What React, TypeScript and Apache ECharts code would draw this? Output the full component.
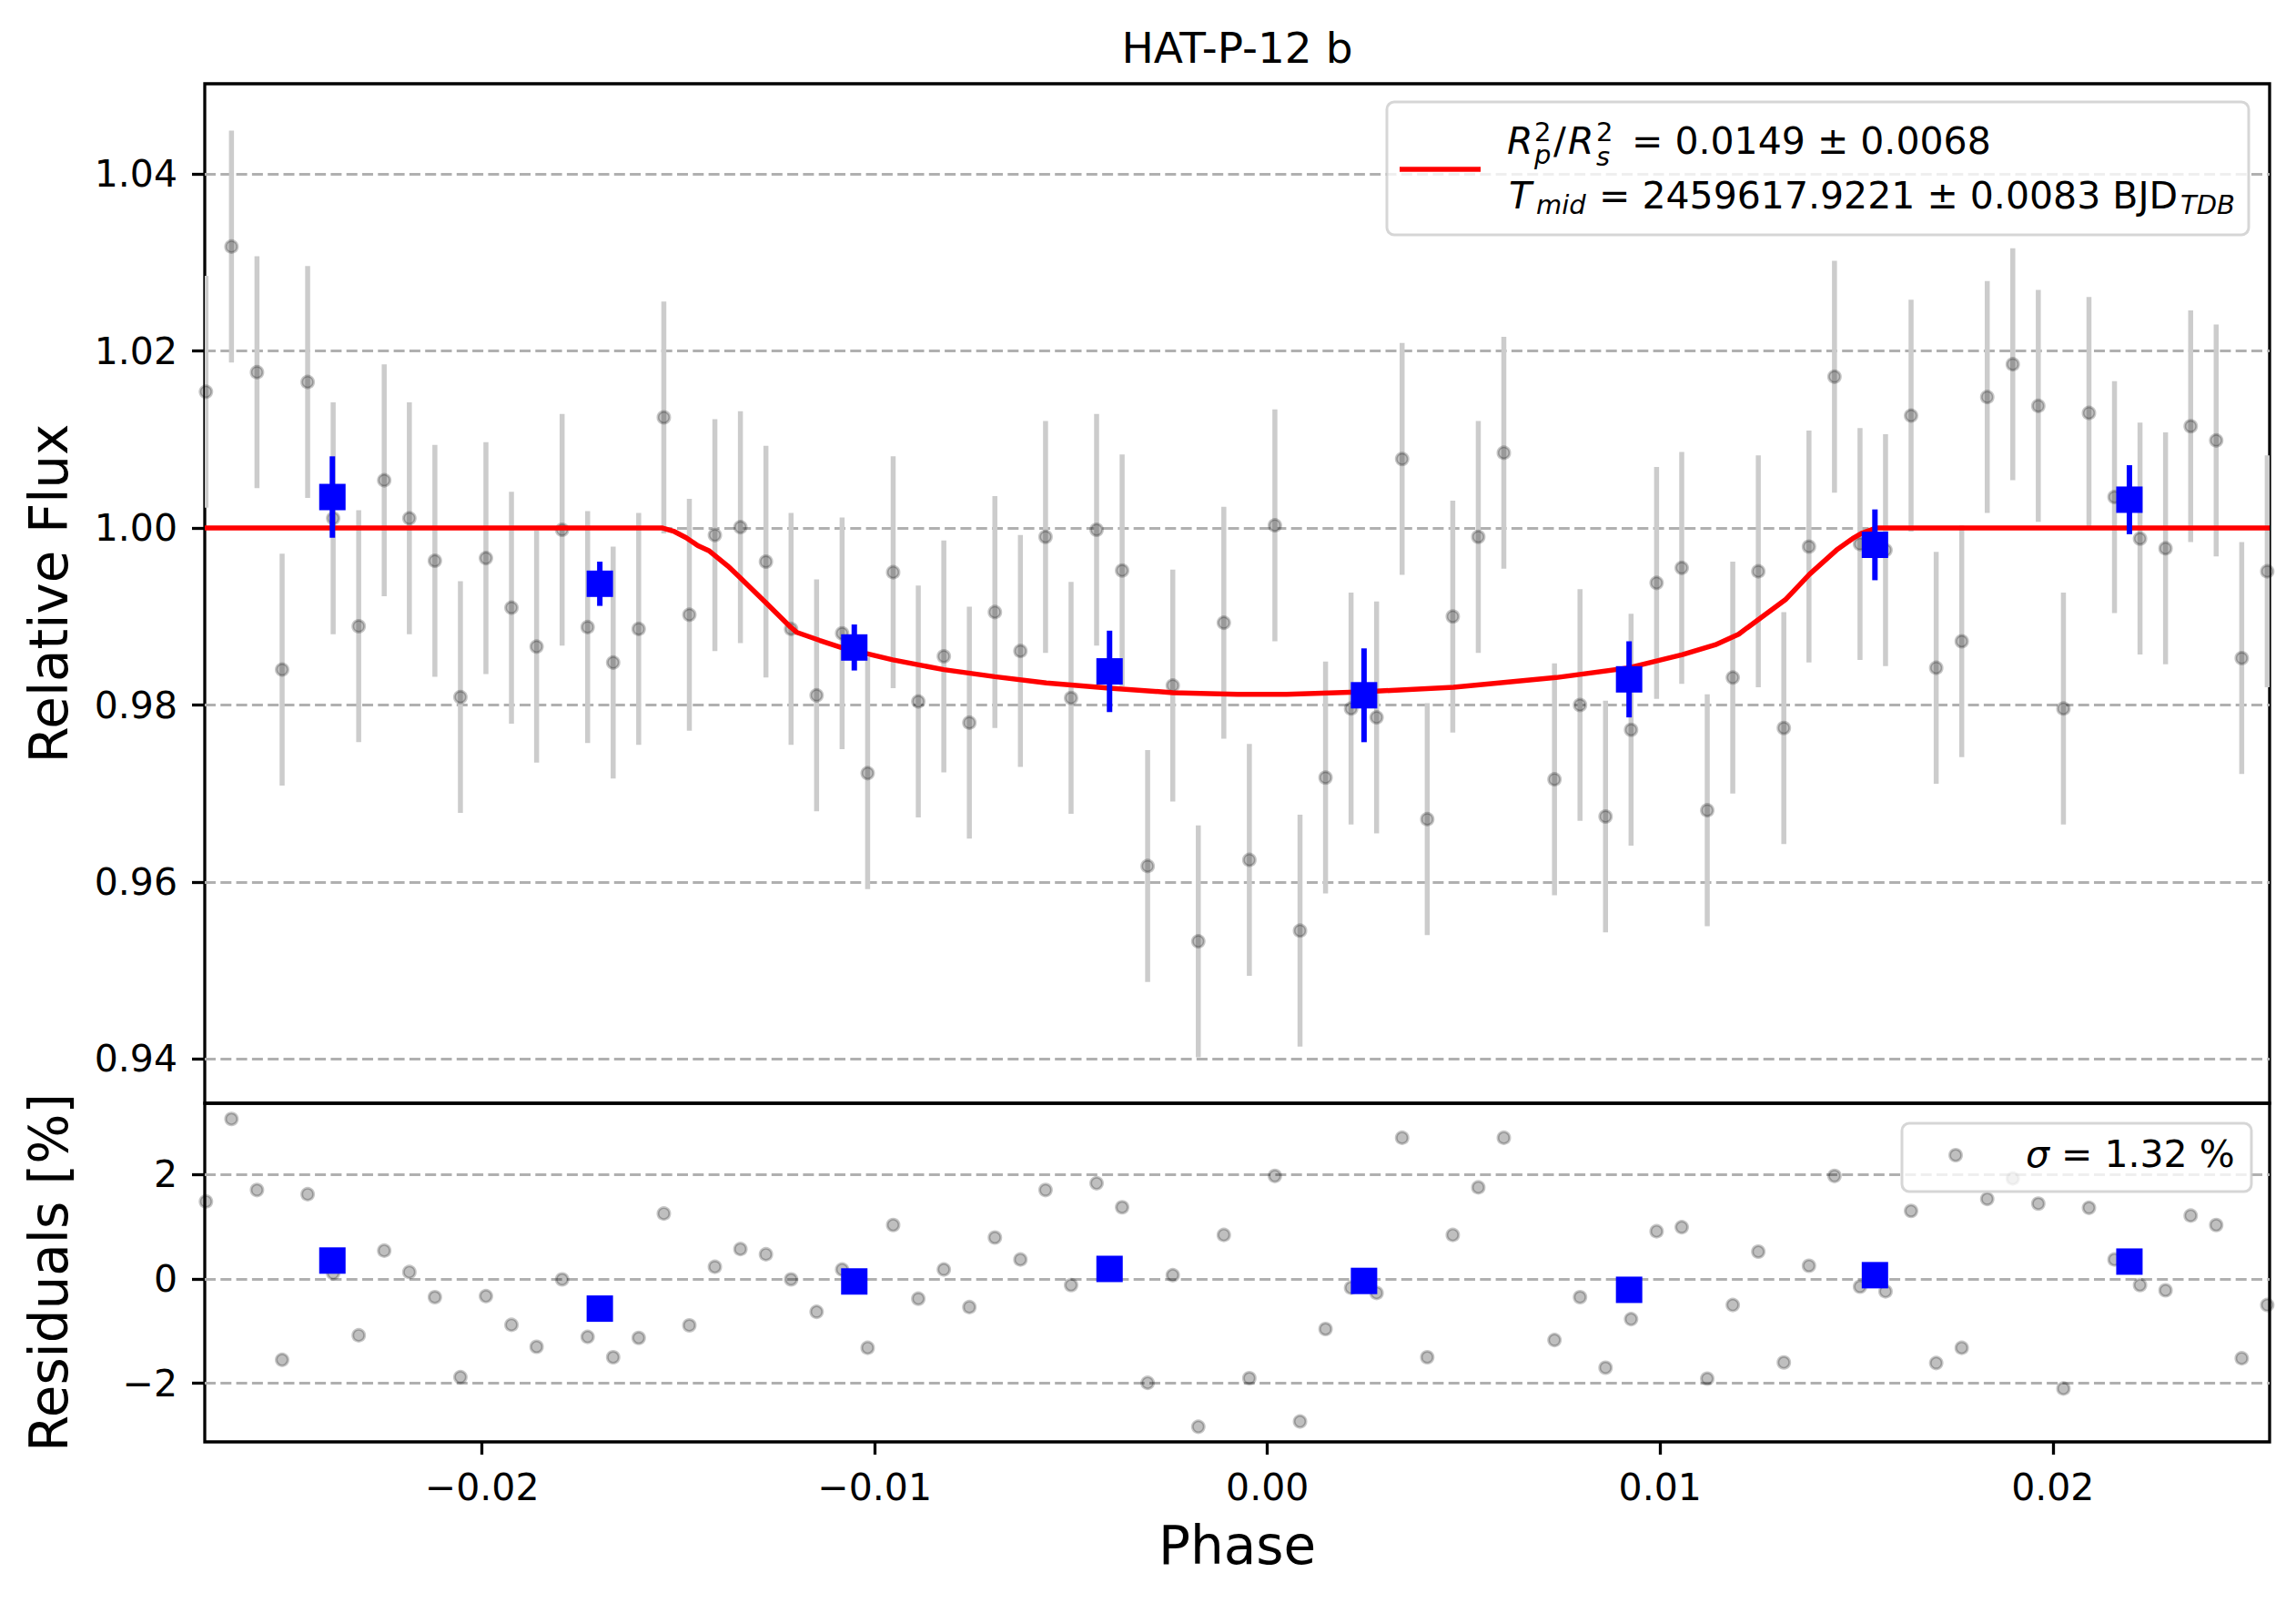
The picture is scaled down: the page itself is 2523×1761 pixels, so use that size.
import React, { useEffect, useRef } from 'react';
import * as echarts from 'echarts';

// phase of each unbinned exposure
const phase = [
  -0.02703, -0.02638, -0.02573, -0.02509, -0.02444, -0.02379, -0.02314, -0.02249, -0.02185, -0.0212,
  -0.02055, -0.0199, -0.01925, -0.01861, -0.01796, -0.01731, -0.01666, -0.01601, -0.01537, -0.01472,
  -0.01407, -0.01342, -0.01277, -0.01213, -0.01148, -0.01083, -0.01018, -0.00953, -0.00889, -0.00824,
  -0.00759, -0.00694, -0.00629, -0.00565, -0.005, -0.00435, -0.0037, -0.00305, -0.00241, -0.00176,
  -0.00111, -0.00046, 0.00019, 0.00083, 0.00148, 0.00213, 0.00278, 0.00343, 0.00407, 0.00472,
  0.00537, 0.00602, 0.00731, 0.00796, 0.00861, 0.00926, 0.00991, 0.01055, 0.0112, 0.01185,
  0.0125, 0.01315, 0.01379, 0.01444, 0.01509, 0.01574, 0.01639, 0.01703, 0.01768, 0.01833,
  0.01898, 0.01963, 0.02027, 0.02092, 0.02157, 0.02222, 0.02287, 0.02351, 0.02416, 0.02481,
  0.02546,
];

// relative flux of each exposure
const flux = [
  1.0154, 1.0318, 1.0176, 0.984, 1.0165, 1.0011, 0.9889, 1.0054, 1.0011, 0.9963,
  0.9809, 0.9966, 0.991, 0.9866, 0.9998, 0.9888, 0.9848, 0.9886, 1.0125, 0.9902,
  0.9992, 1.0001, 0.9962, 0.9886, 0.9811, 0.9881, 0.9723, 0.995, 0.9804, 0.9855,
  0.978, 0.9905, 0.9861, 0.999, 0.9808, 0.9998, 0.9952, 0.9618, 0.9822, 0.9533,
  0.9893, 0.9625, 1.0003, 0.9545, 0.9718, 0.9796, 0.9786, 1.0078, 0.9671, 0.99,
  0.999, 1.0085, 0.9716, 0.98, 0.9674, 0.9772, 0.9938, 0.9955, 0.9681, 0.9831,
  0.9951, 0.9774, 0.9979, 1.0171, 0.9982, 0.9975, 1.0127, 0.9842, 0.9872, 1.0148,
  1.0185, 1.0138, 0.9796, 1.013, 1.0035, 0.9988, 0.9977, 1.0115, 1.0099, 0.9853,
  0.9951,
];

// residuals in percent
const residual = [
  1.48, 3.06, 1.7, -1.55, 1.62, 0.11, -1.08, 0.54, 0.13, -0.35,
  -1.88, -0.33, -0.88, -1.3, -0.01, -1.11, -1.5, -1.13, 1.25, -0.89,
  0.23, 0.57, 0.47, -0.01, -0.63, 0.18, -1.32, 1.03, -0.38, 0.18,
  -0.54, 0.79, 0.37, 1.7, -0.12, 1.83, 1.37, -1.99, 0.07, -2.83,
  0.84, -1.9, 1.97, -2.73, -0.96, -0.17, -0.27, 2.7, -1.5, 0.84,
  1.75, 2.7, -1.17, -0.35, -1.7, -0.77, 0.91, 0.99, -1.91, -0.5,
  0.52, -1.6, 0.25, 1.97, -0.15, -0.24, 1.3, -1.61, -1.32, 1.53,
  1.92, 1.44, -2.1, 1.36, 0.37, -0.12, -0.22, 1.21, 1.03, -1.52,
  -0.5,
];

const fluxErr = 0.0131;

// binned points
const binPhase = [-0.02381, -0.017, -0.01052, -0.00402, 0.00246, 0.00921, 0.01547, 0.02195];
const binFlux = [1.0035, 0.9937, 0.9865, 0.9838, 0.9811, 0.9829, 0.9981, 1.0032];
const binErr = [0.0046, 0.0025, 0.0026, 0.0046, 0.0053, 0.0043, 0.004, 0.0039];
const binResidual = [0.35, -0.57, -0.05, 0.19, -0.04, -0.21, 0.07, 0.33];

// transit model
const modelPhase = [
  -0.02706, -0.0154, -0.0151, -0.0148, -0.0145, -0.01421, -0.01374, -0.01343, -0.01278, -0.01214,
  -0.01198, -0.0114, -0.01085, -0.00954, -0.00824, -0.00694, -0.00563, -0.00402, -0.00241, -0.00076,
  0.00049, 0.00246, 0.00474, 0.00735, 0.0092, 0.01057, 0.0114, 0.012, 0.01221, 0.01319,
  0.01381, 0.01449, 0.0149, 0.01513, 0.0155, 0.02552,
];
const modelFlux = [
  1.0, 1.0, 0.9996, 0.9989, 0.998, 0.9974, 0.9957, 0.9944, 0.9916, 0.9888,
  0.9882, 0.9873, 0.9865, 0.9851, 0.984, 0.9832, 0.9825, 0.9819, 0.9814, 0.9812,
  0.9812, 0.9815, 0.982, 0.9831, 0.9842, 0.9857, 0.9868, 0.988, 0.9887, 0.9919,
  0.9948, 0.9975, 0.9988, 0.9994, 1.0, 1.0,
];

const xTicks = [-0.02, -0.01, 0, 0.01, 0.02];
const fluxTicks = [0.94, 0.96, 0.98, 1.0, 1.02, 1.04];
const residTicks = [-2, 0, 2];

const FONT = 'DejaVu Sans';
const minus = (s: string) => s.replace('-', '\u2212');

const errorBars = (
  data: number[][],
  color: string,
  width: number,
  xAxisIndex: number,
  yAxisIndex: number,
  z: number
) => ({
  type: 'custom',
  xAxisIndex,
  yAxisIndex,
  z,
  silent: true,
  clip: true,
  encode: { x: 0, y: 1 },
  data,
  renderItem: (_params: any, api: any) => {
    const x = api.value(0);
    const y = api.value(1);
    const e = api.value(2);
    const a = api.coord([x, y + e]);
    const b = api.coord([x, y - e]);
    return {
      type: 'line',
      shape: { x1: a[0], y1: a[1], x2: b[0], y2: b[1] },
      style: { stroke: color, lineWidth: width },
    };
  },
});

const txt = (
  x: number,
  y: number,
  text: string,
  size: number,
  italic = false,
  align = 'left'
) => ({
  type: 'text',
  x,
  y,
  z: 101,
  style: {
    text,
    fill: '#000',
    fontSize: size,
    fontFamily: FONT,
    fontStyle: italic ? 'italic' : 'normal',
    align,
    textAlign: align,
    verticalAlign: 'middle',
    textVerticalAlign: 'middle',
  },
});

// superscript stacked over subscript, as one text block
const stack = (x: number, y: number, sup: string, sub: string, lineHeight: number) => ({
  type: 'text',
  x,
  y,
  z: 101,
  style: {
    text: `{a|${sup}}\n{b|${sub}}`,
    fill: '#000',
    fontSize: 29,
    fontFamily: FONT,
    align: 'left',
    textAlign: 'left',
    verticalAlign: 'middle',
    textVerticalAlign: 'middle',
    rich: {
      a: { fontSize: 29, fontFamily: FONT, lineHeight },
      b: { fontSize: 29, fontFamily: FONT, fontStyle: 'italic', lineHeight },
    },
  },
});

const App: React.FC = () => {
  const chartRef = useRef<HTMLDivElement>(null);

  useEffect(() => {
    if (!chartRef.current) return;
    const chart = echarts.init(chartRef.current, null, { renderer: 'svg' });

    const pts = phase.map((p, i) => [p, flux[i]]);
    const ptsErr = phase.map((p, i) => [p, flux[i], fluxErr]);
    const res = phase.map((p, i) => [p, residual[i]]);
    const bins = binPhase.map((p, i) => [p, binFlux[i]]);
    const binsErr = binPhase.map((p, i) => [p, binFlux[i], binErr[i]]);
    const binsRes = binPhase.map((p, i) => [p, binResidual[i]]);
    const model = modelPhase.map((p, i) => [p, modelFlux[i]]);

    const grayDot = {
      color: 'rgba(0,0,0,0.25)',
      borderColor: 'rgba(0,0,0,0.22)',
      borderWidth: 3,
      opacity: 1,
    };
    const blue = { color: '#0000ff', opacity: 1 };
    const gridLine = {
      show: true,
      lineStyle: { color: '#b0b0b0', width: 3, type: [12, 5.3] },
    };
    const tick = { show: true, length: 14, lineStyle: { color: '#000', width: 3.3 } };
    const label = { color: '#000', fontSize: 41, fontFamily: FONT, margin: 30 };
    const nameStyle = { color: '#000', fontSize: 58, fontFamily: FONT };
    const hiddenLine = { show: false, onZero: false };

    const options = {
      animation: false,
      backgroundColor: '#fff',
      textStyle: { fontFamily: FONT },
      grid: [
        { left: 225, top: 92, width: 2269, height: 1120, show: true, borderColor: '#000', borderWidth: 3.3 },
        { left: 225, top: 1212, width: 2269, height: 372, show: true, borderColor: '#000', borderWidth: 3.3 },
      ],
      xAxis: [
        {
          type: 'value',
          gridIndex: 0,
          min: -0.02706,
          max: 0.02552,
          axisLine: hiddenLine,
          axisTick: { show: false },
          axisLabel: { show: false },
          splitLine: { show: false },
        },
        {
          type: 'value',
          gridIndex: 1,
          min: -0.02706,
          max: 0.02552,
          axisLine: hiddenLine,
          axisTick: { ...tick, customValues: xTicks },
          axisLabel: {
            ...label,
            margin: 29,
            customValues: xTicks,
            formatter: (v: number) => minus(v.toFixed(2)),
          },
          splitLine: { show: false },
          name: 'Phase',
          nameLocation: 'middle',
          nameGap: 85,
          nameTextStyle: nameStyle,
        },
      ],
      yAxis: [
        {
          type: 'value',
          gridIndex: 0,
          min: 0.935,
          max: 1.0502,
          splitNumber: 5,
          axisLine: hiddenLine,
          axisTick: { ...tick, customValues: fluxTicks },
          axisLabel: {
            ...label,
            customValues: fluxTicks,
            formatter: (v: number) => v.toFixed(2),
          },
          splitLine: gridLine,
          name: 'Relative Flux',
          nameLocation: 'middle',
          nameGap: 142,
          nameTextStyle: nameStyle,
        },
        {
          type: 'value',
          gridIndex: 1,
          min: -3.12,
          max: 3.36,
          splitNumber: 3,
          axisLine: hiddenLine,
          axisTick: { ...tick, customValues: residTicks },
          axisLabel: {
            ...label,
            customValues: residTicks,
            formatter: (v: number) => minus(String(v)),
          },
          splitLine: gridLine,
          name: 'Residuals [%]',
          nameLocation: 'middle',
          nameGap: 142,
          nameTextStyle: nameStyle,
        },
      ],
      series: [
        errorBars(ptsErr, '#cccccc', 5.5, 0, 0, 1),
        {
          type: 'scatter',
          xAxisIndex: 0,
          yAxisIndex: 0,
          z: 2,
          symbol: 'circle',
          symbolSize: 13,
          itemStyle: grayDot,
          data: pts,
          silent: true,
        },
        {
          type: 'line',
          xAxisIndex: 0,
          yAxisIndex: 0,
          z: 3,
          showSymbol: false,
          smooth: false,
          lineStyle: { color: '#ff0000', width: 5.5 },
          data: model,
          silent: true,
        },
        errorBars(binsErr, '#0000ff', 6, 0, 0, 4),
        {
          type: 'scatter',
          xAxisIndex: 0,
          yAxisIndex: 0,
          z: 5,
          symbol: 'rect',
          symbolSize: 29,
          itemStyle: blue,
          data: bins,
          silent: true,
        },
        {
          type: 'scatter',
          xAxisIndex: 1,
          yAxisIndex: 1,
          z: 2,
          symbol: 'circle',
          symbolSize: 13,
          itemStyle: grayDot,
          data: res,
          silent: true,
        },
        {
          type: 'scatter',
          xAxisIndex: 1,
          yAxisIndex: 1,
          z: 5,
          symbol: 'rect',
          symbolSize: 29,
          itemStyle: blue,
          data: binsRes,
          silent: true,
        },
      ],
      graphic: {
        elements: [
          txt(1359.5, 52, 'HAT-P-12 b', 47, false, 'center'),
          // fit legend
          {
            type: 'rect',
            z: 100,
            shape: { x: 1524, y: 112, width: 947, height: 146, r: 8 },
            style: { fill: 'rgba(255,255,255,0.8)', stroke: 'rgba(204,204,204,0.8)', lineWidth: 3 },
          },
          {
            type: 'line',
            z: 101,
            shape: { x1: 1538, y1: 186, x2: 1627, y2: 186 },
            style: { stroke: '#ff0000', lineWidth: 5.5 },
          },
          // mathtext R_p^2 / R_s^2: the stacked scripts sit tight against the letters, as in the original
          txt(1656, 155, 'R', 41, true),
          stack(1686, 157, '2', 'p', 25),
          txt(1707, 155, '/', 41),
          txt(1723, 155, 'R', 41, true),
          stack(1754, 158, '2', 's', 27),
          txt(1793, 155, '= 0.0149 \u00b1 0.0068', 41),
          txt(1658, 215, 'T', 41, true),
          txt(1688, 225, 'mid', 29, true),
          txt(1757, 215, '= 2459617.9221 \u00b1 0.0083 BJD', 41),
          txt(2396, 225, 'TDB', 29, true),
          // residual legend
          {
            type: 'rect',
            z: 100,
            shape: { x: 2090, y: 1234, width: 384, height: 75, r: 8 },
            style: { fill: 'rgba(255,255,255,0.8)', stroke: 'rgba(204,204,204,0.8)', lineWidth: 3 },
          },
          {
            type: 'circle',
            z: 101,
            shape: { cx: 2149, cy: 1269, r: 6.5 },
            style: { fill: 'rgba(0,0,0,0.25)', stroke: 'rgba(0,0,0,0.22)', lineWidth: 3 },
          },
          {
            type: 'text',
            x: 2226,
            y: 1268,
            z: 101,
            style: {
              text: '{i|\u03c3} = 1.32 %',
              fill: '#000',
              fontSize: 41,
              fontFamily: FONT,
              align: 'left',
              textAlign: 'left',
              verticalAlign: 'middle',
              textVerticalAlign: 'middle',
              rich: { i: { fontStyle: 'italic', fontSize: 41, fontFamily: FONT } },
            },
          },
        ],
      },
    };

    chart.setOption(options as any);

    return () => {
      chart.dispose();
    };
  }, []);

  return (
    <div
      ref={chartRef}
      style={{ position: 'absolute', left: 0, top: 0, width: '2523px', height: '1761px' }}
    />
  );
};

export default App;
